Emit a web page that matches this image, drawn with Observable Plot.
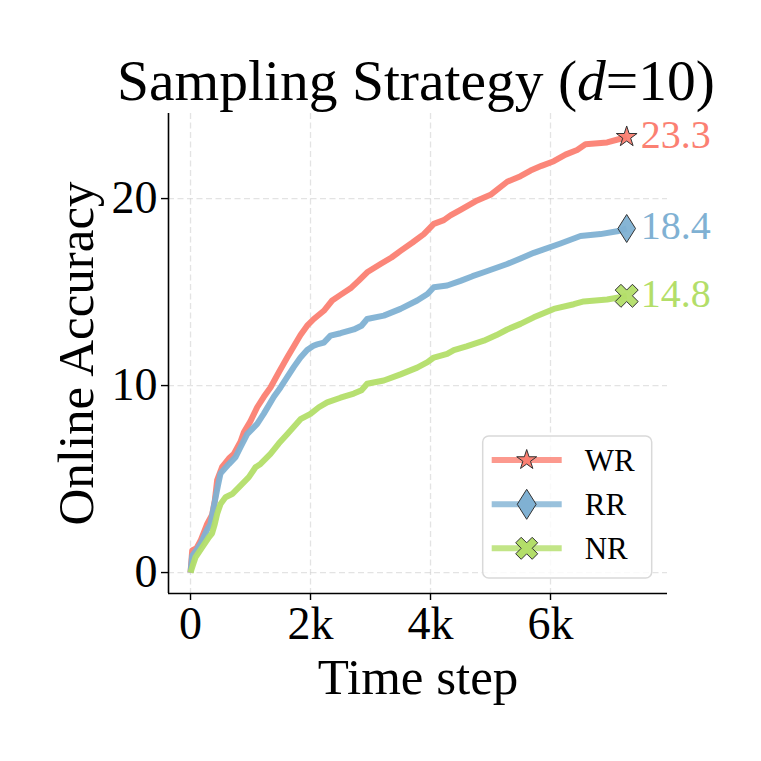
<!DOCTYPE html>
<html>
<head>
<meta charset="utf-8">
<script src="https://cdn.jsdelivr.net/npm/d3@7"></script>
<script src="https://cdn.jsdelivr.net/npm/@observablehq/plot@0.6"></script>
<style>
  body { margin: 0; background: white; font-family: 'Liberation Serif', serif; }
  #wrap { width: 761px; }
  #title { position: relative; height: 80px; z-index: 2; }
  #title span { position: absolute; top: 52px; left: 416px; transform: translateX(-50%); white-space: nowrap; font-size: 57.5px; line-height: 57.5px; color: black; }
  #chart { position: relative; z-index: 1; }
</style>
</head>
<body>
<div id="wrap">
  <div id="title"><span>Sampling Strategy (<i>d</i>=10)</span></div>
  <div id="chart"></div>
</div>
<script>
// ---- data ----
const seriesNames = ["WR", "RR", "NR"];
const seriesColors = ["#fb8072", "#80b1d3", "#b3de69"];

const wrT = [0, 28, 100, 167, 278, 361, 405, 444, 528, 639, 722, 833, 889, 1000, 1111, 1222, 1333, 1470, 1611, 1722, 1833, 1944, 2055, 2222, 2361, 2500, 2667, 2800, 2944, 3167, 3350, 3500, 3700, 3889, 4055, 4222, 4333, 4500, 4778, 5000, 5278, 5500, 5667, 5850, 6055, 6250, 6444, 6583, 6944, 7167, 7270];
const wrV = [0, 1.18, 1.3, 1.7, 2.6, 3.1, 3.85, 4.95, 5.65, 6.1, 6.35, 7.0, 7.5, 8.1, 8.84, 9.4, 9.9, 10.7, 11.5, 12.1, 12.7, 13.2, 13.56, 14.0, 14.55, 14.85, 15.2, 15.6, 16.06, 16.5, 16.85, 17.2, 17.65, 18.1, 18.65, 18.85, 19.1, 19.4, 19.9, 20.2, 20.9, 21.2, 21.5, 21.75, 22.0, 22.35, 22.6, 22.9, 23.0, 23.2, 23.3];

const rrT = [0, 28, 100, 167, 278, 333, 417, 460, 500, 528, 639, 750, 833, 944, 1111, 1222, 1389, 1500, 1611, 1722, 1833, 1944, 2055, 2111, 2222, 2333, 2500, 2722, 2850, 2944, 3222, 3500, 3778, 3950, 4055, 4278, 4500, 4700, 4889, 5278, 5500, 5722, 6167, 6500, 6833, 7111, 7270];
const rrV = [0, 0.9, 1.2, 1.53, 2.3, 2.6, 4.0, 4.7, 5.3, 5.4, 5.8, 6.17, 6.7, 7.4, 7.95, 8.5, 9.4, 9.9, 10.45, 11.0, 11.5, 11.9, 12.14, 12.2, 12.3, 12.67, 12.8, 13.0, 13.2, 13.56, 13.74, 14.1, 14.55, 14.9, 15.26, 15.35, 15.6, 15.85, 16.06, 16.5, 16.8, 17.1, 17.6, 18.0, 18.1, 18.25, 18.4];

const nrT = [0, 40, 83, 194, 306, 360, 405, 444, 500, 583, 694, 805, 972, 1083, 1167, 1333, 1470, 1611, 1722, 1833, 2000, 2139, 2278, 2500, 2722, 2850, 2944, 3222, 3500, 3778, 3950, 4055, 4278, 4389, 4600, 4889, 5100, 5278, 5500, 5722, 6055, 6389, 6555, 6944, 7111, 7270];
const nrV = [0, 0.4, 0.82, 1.35, 1.89, 2.1, 2.6, 3.14, 3.67, 4.03, 4.2, 4.56, 5.1, 5.63, 5.81, 6.35, 6.9, 7.4, 7.8, 8.2, 8.49, 8.84, 9.1, 9.35, 9.57, 9.75, 10.1, 10.27, 10.6, 10.96, 11.25, 11.5, 11.7, 11.9, 12.1, 12.4, 12.7, 13.0, 13.3, 13.65, 14.1, 14.35, 14.5, 14.6, 14.7, 14.8];

const xTicks = [0, 2000, 4000, 6000];
const xTickLabels = ["0", "2k", "4k", "6k"];
const yTicks = [0, 10, 20];
const xDomain = [-367, 7950];
const yDomain = [-1.12, 24.55];

// ---- marker shapes ----
const starSym = { draw(ctx, size) {
  const R = Math.sqrt(size / Math.PI), r = R * 0.381966;
  for (let i = 0; i < 10; i++) {
    const a = -Math.PI / 2 + i * Math.PI / 5, rad = i % 2 ? r : R;
    const x = rad * Math.cos(a), y = rad * Math.sin(a);
    i ? ctx.lineTo(x, y) : ctx.moveTo(x, y);
  }
  ctx.closePath();
}};
const thinDiamondSym = { draw(ctx, size) {
  const R = Math.sqrt(size / Math.PI), w = R * 0.63;
  ctx.moveTo(0, -R); ctx.lineTo(w, 0); ctx.lineTo(0, R); ctx.lineTo(-w, 0); ctx.closePath();
}};
const xFilledSym = { draw(ctx, size) {
  const E = Math.sqrt(size / Math.PI), L = E / 0.943, W = L / 3;
  const pts = [[-W,-L],[W,-L],[W,-W],[L,-W],[L,W],[W,W],[W,L],[-W,L],[-W,W],[-L,W],[-L,-W],[-W,-W]];
  pts.forEach(([x, y], i) => {
    const xr = (x - y) / Math.SQRT2, yr = (x + y) / Math.SQRT2;
    i ? ctx.lineTo(xr, yr) : ctx.moveTo(xr, yr);
  });
  ctx.closePath();
}};
const symbols = [starSym, thinDiamondSym, xFilledSym];
const symbolR = [10.9, 14, 11.5];
const legendR = [10.5, 15, 11];

const seriesT = [wrT, rrT, nrT];
const seriesV = [wrV, rrV, nrV];
const tables = seriesNames.map((name, i) => seriesT[i].map((t, j) => ({ name, t, v: seriesV[i][j] })));
const lastPoints = tables.map(tb => tb[tb.length - 1]);

const marks = [
  Plot.gridX(xTicks, { stroke: "#b0b0b0", strokeOpacity: 0.35, strokeWidth: 1.3, strokeDasharray: "6,3.5" }),
  Plot.gridY(yTicks, { stroke: "#b0b0b0", strokeOpacity: 0.35, strokeWidth: 1.3, strokeDasharray: "6,3.5" }),
];
tables.forEach((tb, i) => {
  marks.push(Plot.line(tb, { x: "t", y: "v", stroke: seriesColors[i], strokeWidth: 6, strokeOpacity: 0.95, strokeLinejoin: "round", strokeLinecap: "butt" }));
});
lastPoints.forEach((p, i) => {
  marks.push(Plot.dot([p], { x: "t", y: "v", symbol: symbols[i], r: symbolR[i], fill: seriesColors[i], fillOpacity: 0.95, stroke: "#333", strokeWidth: 1 }));
  marks.push(Plot.text([p], { x: "t", y: "v", text: d => d.v.toFixed(1), fill: seriesColors[i], textAnchor: "start", lineAnchor: "middle", dx: 14, dy: -2, fontSize: 40 }));
});
marks.push(
  Plot.ruleX([xDomain[0]], { stroke: "black", strokeWidth: 1.6 }),
  Plot.ruleY([yDomain[0]], { stroke: "black", strokeWidth: 1.6 }),
  Plot.axisX(xTicks, { tickSize: 7, tickPadding: 6, tickFormat: (d, i) => xTickLabels[i], label: null, fontSize: 46, strokeWidth: 1.4 }),
  Plot.axisY(yTicks, { tickSize: 7, tickPadding: 4, label: null, fontSize: 46, strokeWidth: 1.4 }),
  Plot.text(["Time step"], { frameAnchor: "bottom", textAnchor: "middle", lineAnchor: "middle", dy: 84, fontSize: 51, text: d => d }),
  Plot.text(["Online Accuracy"], { frameAnchor: "left", textAnchor: "middle", lineAnchor: "middle", rotate: -90, dx: -92, fontSize: 51, text: d => d })
);

const chart = Plot.plot({
  width: 761, height: 681,
  marginLeft: 168, marginRight: 94, marginTop: 33, marginBottom: 168,
  x: { domain: xDomain },
  y: { domain: yDomain },
  style: { fontFamily: "'Liberation Serif', serif", fontSize: "46px", color: "black", background: "white", overflow: "visible" },
  marks
});
document.getElementById("chart").appendChild(chart);

// ---- legend ----
const svg = d3.select(chart);
const lg = svg.append("g").attr("transform", "translate(482.7,356)");
lg.append("rect").attr("x", 0).attr("y", 0).attr("width", 169).attr("height", 142).attr("rx", 6)
  .attr("fill", "white").attr("fill-opacity", 0.8).attr("stroke", "#d9d9d9").attr("stroke-width", 1.5);
const rowY = [24, 68.3, 112.3];
seriesNames.forEach((name, i) => {
  lg.append("line").attr("x1", 9).attr("x2", 79).attr("y1", rowY[i]).attr("y2", rowY[i])
    .attr("stroke", seriesColors[i]).attr("stroke-width", 6).attr("stroke-opacity", 0.8);
  lg.append("path").attr("transform", `translate(44,${rowY[i]})`)
    .attr("d", d3.symbol(symbols[i], Math.PI * legendR[i] * legendR[i])())
    .attr("fill", seriesColors[i]).attr("stroke", "#333").attr("stroke-width", 1);
  lg.append("text").attr("x", 102).attr("y", rowY[i]).attr("dy", "0.35em")
    .attr("text-anchor", "start").attr("font-size", 31).attr("fill", "black").text(name);
});
</script>
</body>
</html>
